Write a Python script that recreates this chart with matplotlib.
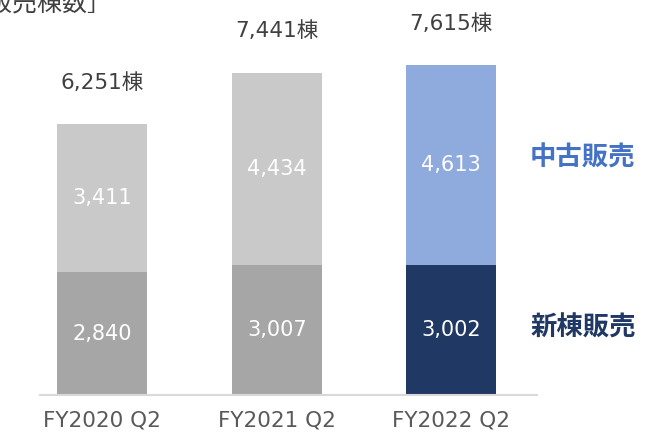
import matplotlib
matplotlib.use("Agg")
import matplotlib.pyplot as plt
import numpy as np

plt.rcParams['font.family'] = ['DejaVu Sans', 'Noto Sans CJK JP']

# data
categories = ['FY2020 Q2', 'FY2021 Q2', 'FY2022 Q2']
new_sales = [2840, 3007, 3002]      # 新棟販売
used_sales = [3411, 4434, 4613]     # 中古販売
totals = [6251, 7441, 7615]

new_colors = ['#A6A6A6', '#A6A6A6', '#1F3864']
used_colors = ['#C9C9C9', '#C9C9C9', '#8FAADC']

fig = plt.figure(figsize=(6.45, 4.4), dpi=100)
# axes spans pixel x 40..537, y 0..395 (baseline)
ax = fig.add_axes([40 / 645, 45 / 440, 497 / 645, 395 / 440])
ax.set_xlim(-0.358, 2.493)
ax.set_ylim(0, 9122)

x = np.arange(len(categories))
w = 0.516
ax.bar(x, new_sales, w, color=new_colors)
ax.bar(x, used_sales, w, bottom=new_sales, color=used_colors)

for i in range(len(categories)):
    ax.text(x[i], new_sales[i] / 2, f'{new_sales[i]:,}', ha='center', va='center',
            color='white', fontsize=15)
    ax.text(x[i], new_sales[i] + used_sales[i] / 2, f'{used_sales[i]:,}', ha='center',
            va='center', color='white', fontsize=15)
    ax.text(x[i], totals[i] + 960, f'{totals[i]:,}棟', ha='center', va='center',
            color='#404040', fontsize=15.5)
    ax.text(x[i], -600, categories[i], ha='center', va='center', color='#595959',
            fontsize=15.5, clip_on=False)

ax.text(2.756, 5480, '中古販売', ha='center', va='center', color='#4472C4',
        fontsize=19, fontweight='bold', family=['Noto Sans CJK JP'])
ax.text(2.756, 1547, '新棟販売', ha='center', va='center', color='#1F3864',
        fontsize=19, fontweight='bold', family=['Noto Sans CJK JP'])

# partially cropped heading in the corner
fig.text(-0.058, 1.022, '［販売棟数］', ha='left', va='top', color='#404040', fontsize=18,
         family=['Noto Sans CJK JP'])

for s in ['top', 'right', 'left']:
    ax.spines[s].set_visible(False)
ax.spines['bottom'].set_color('#D9D9D9')
ax.spines['bottom'].set_linewidth(1.5)
ax.set_xticks([])
ax.set_yticks([])

fig.savefig('out.png', dpi=100)
